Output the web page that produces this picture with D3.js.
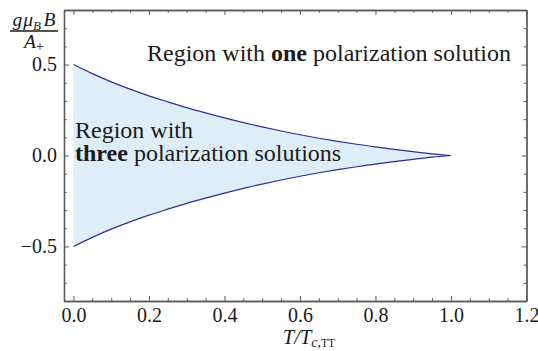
<!DOCTYPE html>
<html>
<head>
<meta charset="utf-8">
<script src="https://cdn.jsdelivr.net/npm/d3@7"></script>
<style>
  html, body { margin: 0; padding: 0; background: #fff; }
  svg { display: block; }
  svg text { font-family: "Liberation Serif", serif; fill: #1a1a1a; }
</style>
</head>
<body>
<svg id="chart" width="538" height="351"></svg>
<script>
// Reduced temperature T / T_c,TT
const temperature = [0, 0.05, 0.1, 0.15, 0.2, 0.25, 0.3, 0.35, 0.4, 0.45, 0.5,
                     0.55, 0.6, 0.65, 0.7, 0.75, 0.8, 0.85, 0.9, 0.95, 1.0];
// Upper boundary of the three-solution region, g mu_B B / A_+
const upperBound = [0.5, 0.45, 0.405, 0.365, 0.328, 0.295, 0.263, 0.234, 0.207, 0.181, 0.157,
                    0.135, 0.114, 0.095, 0.078, 0.062, 0.047, 0.034, 0.021, 0.009, 0];
// Lower boundary of the three-solution region
const lowerBound = [-0.5, -0.45, -0.405, -0.365, -0.328, -0.295, -0.263, -0.234, -0.207, -0.181, -0.157,
                    -0.135, -0.114, -0.095, -0.078, -0.062, -0.047, -0.034, -0.021, -0.009, 0];

const xMajorTicks = [0, 0.2, 0.4, 0.6, 0.8, 1.0, 1.2];
const xMinorTicks = d3.range(0, 24.5).map(i => i * 0.05);
const yMajorTicks = [-0.5, 0, 0.5];
const yMinorTicks = d3.range(-8, 8.5).map(i => i * 0.1);

const serif = '"Liberation Serif", serif';
const svg = d3.select("#chart");
const x = d3.scaleLinear().domain([-0.025, 1.2]).range([64, 526.5]);
const y = d3.scaleLinear().domain([-0.8, 0.8]).range([301, 10]);

const pts = temperature.map((t, i) => ({ t, hi: upperBound[i], lo: lowerBound[i] }));

// shaded region
svg.append("path")
  .datum(pts)
  .attr("fill", "#deeef9")
  .attr("d", d3.area().x(d => x(d.t)).y0(d => y(d.lo)).y1(d => y(d.hi)).curve(d3.curveMonotoneX));

// boundary curves
const line = d3.line().x(d => x(d.t)).curve(d3.curveMonotoneX);
[d => d.hi, d => d.lo].forEach(acc => {
  svg.append("path")
    .datum(pts)
    .attr("fill", "none")
    .attr("stroke", "#2e2e8f")
    .attr("stroke-width", 1.2)
    .attr("d", line.y(d => y(acc(d))));
});

// frame with inward ticks on all sides
const frameColor = "#5a5a5a";
function styleAxis(g) {
  g.attr("font-family", serif);
  g.select(".domain").attr("stroke", frameColor).attr("stroke-width", 1.3);
  g.selectAll(".tick line").attr("stroke", frameColor).attr("stroke-width", 1);
  g.selectAll(".tick text").style("font-size", "20px").style("font-family", serif).attr("fill", "#1a1a1a");
}
const fmt = v => (v < 0 ? "\u2212" : "") + Math.abs(v).toFixed(1);
const notMajor = (vals, majors) => vals.filter(v => !majors.some(m => Math.abs(m - v) < 1e-9));

const yBottom = y.range()[0], yTop = y.range()[1];
const xLeft = x.range()[0], xRight = x.range()[1];

svg.append("g").attr("transform", `translate(0,${yBottom})`)
  .call(d3.axisBottom(x).tickValues(xMajorTicks).tickSize(-5).tickSizeOuter(0).tickPadding(7).tickFormat(fmt))
  .call(styleAxis);
svg.append("g").attr("transform", `translate(0,${yBottom})`)
  .call(d3.axisBottom(x).tickValues(notMajor(xMinorTicks, xMajorTicks)).tickSize(-2.8).tickSizeOuter(0).tickFormat(""))
  .call(styleAxis);

svg.append("g").attr("transform", `translate(0,${yTop})`)
  .call(d3.axisTop(x).tickValues(xMajorTicks).tickSize(-5).tickSizeOuter(0).tickFormat(""))
  .call(styleAxis);
svg.append("g").attr("transform", `translate(0,${yTop})`)
  .call(d3.axisTop(x).tickValues(notMajor(xMinorTicks, xMajorTicks)).tickSize(-2.8).tickSizeOuter(0).tickFormat(""))
  .call(styleAxis);

svg.append("g").attr("transform", `translate(${xLeft},0)`)
  .call(d3.axisLeft(y).tickValues(yMajorTicks).tickSize(-5).tickSizeOuter(0).tickPadding(7).tickFormat(fmt))
  .call(styleAxis);
svg.append("g").attr("transform", `translate(${xLeft},0)`)
  .call(d3.axisLeft(y).tickValues(notMajor(yMinorTicks, yMajorTicks)).tickSize(-2.8).tickSizeOuter(0).tickFormat(""))
  .call(styleAxis);

svg.append("g").attr("transform", `translate(${xRight},0)`)
  .call(d3.axisRight(y).tickValues(yMajorTicks).tickSize(-5).tickSizeOuter(0).tickFormat(""))
  .call(styleAxis);
svg.append("g").attr("transform", `translate(${xRight},0)`)
  .call(d3.axisRight(y).tickValues(notMajor(yMinorTicks, yMajorTicks)).tickSize(-2.8).tickSizeOuter(0).tickFormat(""))
  .call(styleAxis);

// y-axis label: g mu_B B / A_+
const yl = svg.append("g");
const num = yl.append("text").attr("x", 34).attr("y", 26).attr("text-anchor", "middle")
  .style("font-family", serif).style("font-size", "19.5px").style("font-style", "italic");
num.append("tspan").text("g");
num.append("tspan").attr("dx", 1).text("μ");
num.append("tspan").attr("dy", 3.5).style("font-size", "13px").text("B");
num.append("tspan").attr("dy", -3.5).attr("dx", 2.5).text("B");
yl.append("line").attr("x1", 10).attr("x2", 58).attr("y1", 31).attr("y2", 31)
  .attr("stroke", "#1a1a1a").attr("stroke-width", 1.3);
const den = yl.append("text").attr("x", 34).attr("y", 47.5).attr("text-anchor", "middle")
  .style("font-family", serif).style("font-size", "19.5px").style("font-style", "italic");
den.append("tspan").text("A");
den.append("tspan").attr("dy", 3.5).style("font-size", "14px").style("font-style", "normal").text("+");

// x-axis label: T / T_c,TT
const xl = svg.append("text").attr("x", 309).attr("y", 344).attr("text-anchor", "middle")
  .style("font-family", serif).style("font-size", "20.5px");
xl.append("tspan").style("font-style", "italic").text("T/T");
xl.append("tspan").attr("dy", 3).style("font-size", "14px").style("font-style", "italic").text("c,");
xl.append("tspan").style("font-size", "11.5px").text("TT");

// region annotations
const t1 = svg.append("text").attr("x", 147).attr("y", 61).style("font-family", serif).style("font-size", "24px");
t1.append("tspan").text("Region with ");
t1.append("tspan").style("font-weight", "bold").text("one");
t1.append("tspan").text(" polarization solution");

svg.append("text").attr("x", 75).attr("y", 138).style("font-family", serif).style("font-size", "24px").text("Region with");
const t3 = svg.append("text").attr("x", 75).attr("y", 161).style("font-family", serif).style("font-size", "24px");
t3.append("tspan").style("font-weight", "bold").text("three");
t3.append("tspan").text(" polarization solutions");
</script>
</body>
</html>
